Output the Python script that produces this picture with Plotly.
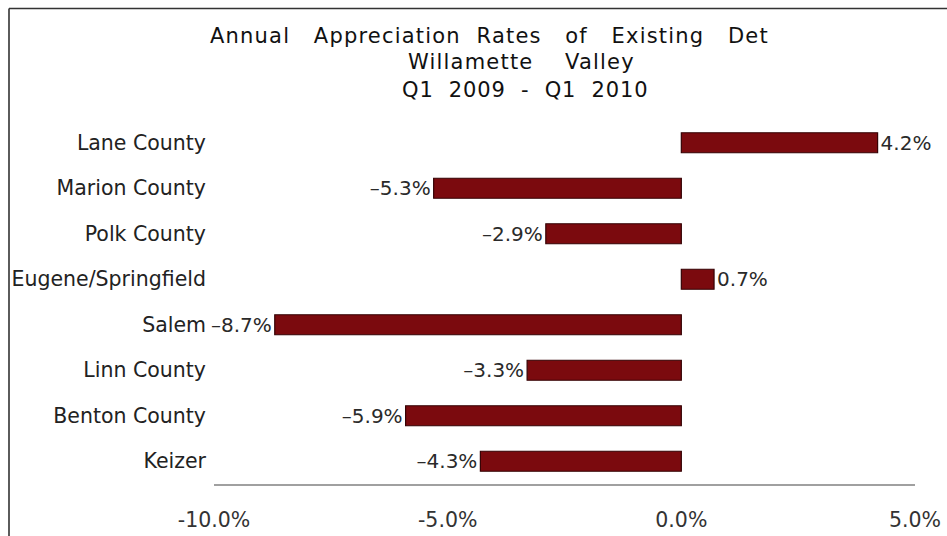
import plotly.graph_objects as go

# Annual appreciation of existing detached homes, Q1 2009 - Q1 2010
areas = ["Lane County", "Marion County", "Polk County", "Eugene/Springfield",
         "Salem", "Linn County", "Benton County", "Keizer"]
rates = [4.2, -5.3, -2.9, 0.7, -8.7, -3.3, -5.9, -4.3]
x_ticks = [-10, -5, 0, 5]
x_tick_labels = ["-10.0%", "-5.0%", "0.0%", "5.0%"]
NB = "\u00a0"
title_lines = [
    NB.join(["Annual", "", "", "Appreciation", "", "Rates", "", "", "of",
             "", "", "Existing", "", "", "Det"]),
    NB.join(["Willamette", "", "", "", "Valley"]),
    NB.join(["Q1", "", "2009", "", "-", "", "Q1", "", "2010"]),
]

W, H = 947, 536
ML, MR, MT, MB = 214, 32, 120, 52
PW, PH = W - ML - MR, H - MT - MB
X_MIN, X_MAX = -10, 5


def px_x(px):
    return (px - ML) / PW


def px_y(py):
    return (H - MB - py) / PH


def fmt_rate(v):
    s = f"{abs(v):.1f}%"
    return ("\u2013" + s) if v < 0 else s


FONT = "DejaVu Sans"

fig = go.Figure()
fig.add_trace(go.Bar(
    y=areas,
    x=rates,
    orientation="h",
    width=0.44,
    marker=dict(color="#7b0a0e", line=dict(color="#350305", width=1.2)),
    text=[fmt_rate(v) for v in rates],
    textposition="outside",
    constraintext="none",
    textfont=dict(family=FONT, size=20, color="#2a2a2a"),
    cliponaxis=False,
    hoverinfo="skip",
))

# Category boundary ticks on the zero line
bounds = [i - 0.5 for i in range(len(areas) + 1)]

fig.update_layout(
    width=W, height=H,
    margin=dict(l=ML, r=MR, t=MT, b=MB),
    paper_bgcolor="white", plot_bgcolor="white",
    showlegend=False,
    xaxis=dict(
        range=[X_MIN, X_MAX],
        tickvals=x_ticks, ticktext=x_tick_labels,
        tickfont=dict(family=FONT, size=20.5, color="#333333"),
        ticks="", showgrid=False,
        showline=True, linecolor="#a0a0a0", linewidth=2,
        zeroline=False, automargin=False,
        ticklabelstandoff=16,
    ),
    yaxis=dict(
        autorange="reversed",
        tickfont=dict(family=FONT, size=20.5, color="#222222"),
        ticks="", showgrid=False, showline=False, zeroline=False,
        automargin=False,
        ticklabelstandoff=7,
    ),
    yaxis2=dict(
        overlaying="y", anchor="free",
        position=(0 - X_MIN) / (X_MAX - X_MIN),
        range=[len(areas) - 0.5, -0.5],
        tickvals=bounds, showticklabels=False,
        ticks="outside", ticklen=5, tickcolor="#b0b0b0",
        showline=True, linecolor="#b0b0b0", linewidth=1,
        showgrid=False, zeroline=False, automargin=False,
    ),
)

# Title, one annotation per line, slightly letter-spaced
title_pos = [(208, 36, 1.2), (406, 62, 1.2), (400, 90, 0.9)]
for text, (x0, yc, spacing) in zip(title_lines, title_pos):
    fig.add_annotation(
        text=f'<span style="letter-spacing:{spacing}px">{text}</span>',
        xref="paper", yref="paper",
        x=px_x(x0), y=px_y(yc), xanchor="left", yanchor="middle",
        showarrow=False, font=dict(family=FONT, size=21, color="#111111"),
    )

# Frame along the top and left edges of the page
frame = dict(color="#333333", width=1.6)
fig.add_shape(type="line", xref="paper", yref="paper",
              x0=px_x(9), x1=px_x(W), y0=px_y(8.5), y1=px_y(8.5), line=frame)
fig.add_shape(type="line", xref="paper", yref="paper",
              x0=px_x(9), x1=px_x(9), y0=px_y(8.5), y1=px_y(H), line=frame)

fig.write_html("out.html")
